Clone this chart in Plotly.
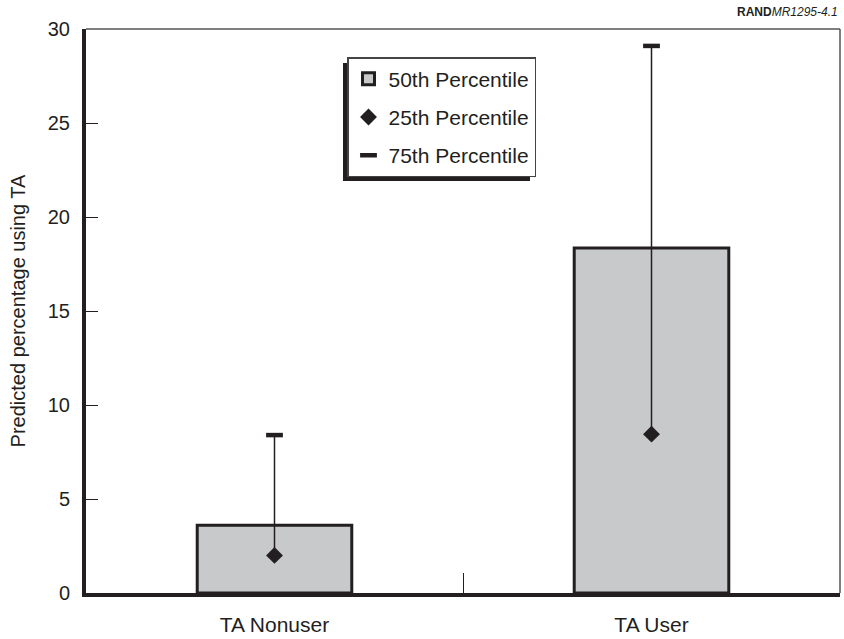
import plotly.graph_objects as go

# ---- data ----
categories = ["TA Nonuser", "TA User"]
p50 = [3.6, 18.35]
p25 = [2.0, 8.45]
p75 = [8.4, 29.1]
y_ticks = [0, 5, 10, 15, 20, 25, 30]
series_names = ["50th Percentile", "25th Percentile", "75th Percentile"]

INK = "#231f20"
FONT = "Liberation Sans, Arial, Helvetica, sans-serif"

W, H = 844, 639
ML, MR, MT, MB = 86, 4, 29, 46
PW, PH = W - ML - MR, H - MT - MB


def px_to_paper(x, y):
    return (x - ML) / PW, (H - MB - y) / PH


fig = go.Figure()

fig.add_trace(go.Bar(
    x=categories, y=p50, name=series_names[0], width=0.41,
    marker=dict(color="#c8c9cb", line=dict(color=INK, width=3)),
))

fig.add_trace(go.Scatter(
    x=categories, y=p25, name=series_names[1], mode="markers",
    marker=dict(symbol="diamond", size=13, color=INK),
    error_y=dict(type="data", symmetric=False,
                 array=[b - a for a, b in zip(p25, p75)],
                 arrayminus=[0] * len(p25),
                 width=0, thickness=1.5, color=INK),
))

fig.add_trace(go.Scatter(
    x=categories, y=p75, name=series_names[2], mode="markers",
    marker=dict(symbol="line-ew", size=12, color=INK,
                line=dict(color=INK, width=4.5)),
))

# legend drop shadow
lx0, ly0 = px_to_paper(343, 63)
lx1, ly1 = px_to_paper(530, 181)
fig.add_shape(type="rect", xref="paper", yref="paper",
              x0=lx0, x1=lx1, y0=ly1, y1=ly0,
              fillcolor=INK, line=dict(width=0), layer="above")

# top and right thin frame lines
fig.add_shape(type="line", xref="paper", yref="paper", x0=0, x1=1, y0=1, y1=1,
              line=dict(color="#555555", width=1.5))
fig.add_shape(type="line", xref="paper", yref="paper", x0=1, x1=1, y0=0, y1=1,
              line=dict(color="#555555", width=1.5))

legx, legy = px_to_paper(347, 57)

fig.update_layout(
    width=W, height=H,
    margin=dict(l=ML, r=MR, t=MT, b=MB),
    paper_bgcolor="white", plot_bgcolor="white",
    font=dict(family=FONT, size=20, color=INK),
    showlegend=True,
    legend=dict(x=legx, y=legy, xanchor="left", yanchor="top",
                bgcolor="white", bordercolor="#444444", borderwidth=1.5,
                font=dict(size=21, color=INK), tracegroupgap=8,
                traceorder="grouped", itemwidth=30),
    xaxis=dict(
        type="category", range=[-0.5, 1.5],
        showline=True, linecolor=INK, linewidth=4,
        ticks="inside", tickson="boundaries", ticklen=20, tickwidth=1.2,
        tickcolor=INK, ticklabelstandoff=10, showgrid=False, zeroline=False,
        tickfont=dict(size=21),
    ),
    yaxis=dict(
        range=[0, 30], tickvals=y_ticks,
        showline=True, linecolor=INK, linewidth=4,
        ticks="inside", ticklen=12, tickwidth=1.2, tickcolor=INK,
        ticklabelstandoff=8, showgrid=False, zeroline=False,
        tickfont=dict(size=20),
        title=dict(text="Predicted percentage using TA", font=dict(size=20),
                   standoff=18),
    ),
    annotations=[dict(
        text="<b>RAND</b><i>MR1295-4.1</i>", xref="paper", yref="paper",
        x=1, y=1, xanchor="right", yanchor="bottom", yshift=8,
        showarrow=False, font=dict(size=12, color=INK),
    )],
)

# separate legend groups for spacing
for i, tr in enumerate(fig.data):
    tr.legendgroup = f"g{i}"

fig.write_html(
    "out.html",
    config={"displayModeBar": False},
    post_script="document.body.style.margin='0';document.body.style.overflow='hidden';",
)
